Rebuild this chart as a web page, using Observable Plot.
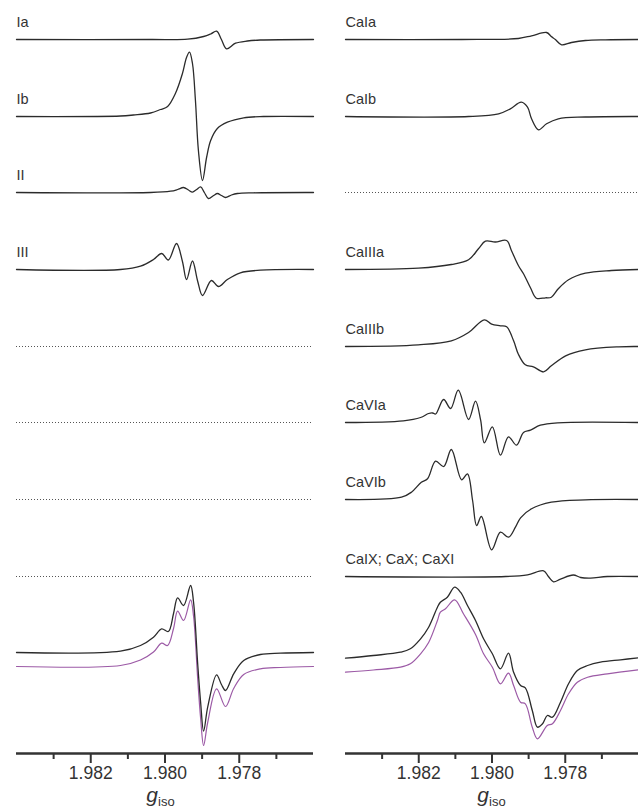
<!DOCTYPE html>
<html><head><meta charset="utf-8">
<script src="https://cdn.jsdelivr.net/npm/d3@7"></script>
<script src="https://cdn.jsdelivr.net/npm/@observablehq/plot@0.6"></script>
<style>
body{margin:0;background:#fff;}
#wrap{display:flex;width:638px;height:810px;background:#fff;}
</style></head><body><div id="wrap"></div>
<script>
// ---- axis values ----
const gDomain = [1.9840, 1.9760];
const majorTicks = [1.982, 1.980, 1.978];
const minorTicks = [1.983, 1.981, 1.979, 1.977];

// ---- left panel spectra: [g_iso, intensity (a.u.)] ----
const Ia = [[1.9840,0],[1.98039,0],[1.97939,0.3],[1.97896,3],[1.97877,5.5],[1.97861,8.3],[1.97848,0],[1.97834,-9.3],[1.97810,-3.7],[1.97778,-1.5],[1.97743,-0.5],[1.9760,0]];
const Ib = [[1.9840,0],[1.98120,0.5],[1.98085,1.5],[1.98039,3.5],[1.98012,7],[1.97993,10],[1.97972,23],[1.97953,43],[1.97942,59],[1.97934,64.3],[1.97926,53],[1.97918,16],[1.97910,-34],[1.97899,-64],[1.97888,-41],[1.97877,-24],[1.97859,-12],[1.97832,-5.7],[1.97788,-1.3],[1.97735,0],[1.9760,0]];
const II = [[1.9840,0],[1.98039,0],[1.97985,1.3],[1.97966,3],[1.97950,5],[1.97937,2.5],[1.97926,0.3],[1.97915,3],[1.97904,5.6],[1.97894,0],[1.97883,-6],[1.97869,-3],[1.97859,-1],[1.97848,-3],[1.97837,-5],[1.97821,-2.5],[1.97805,-1],[1.97762,-0.3],[1.9760,0]];
const III = [[1.9840,0],[1.98120,0],[1.98066,3.3],[1.98031,10],[1.98009,16],[1.97991,9.5],[1.97969,26],[1.97953,8],[1.97942,-10],[1.97926,8.5],[1.97912,-11.7],[1.97899,-26],[1.97875,-11],[1.97856,-17],[1.97832,-10],[1.97797,-3.3],[1.97743,-0.7],[1.9760,0]];
const leftExp = [[1.9840,0],[1.98120,1.3],[1.98066,7],[1.98031,15.3],[1.98009,23.7],[1.97991,21],[1.97977,39],[1.97966,54.7],[1.97950,47],[1.97931,67],[1.97923,50],[1.97912,-11],[1.97904,-50],[1.97896,-78.7],[1.97885,-54.7],[1.97861,-22.3],[1.97848,-32],[1.97837,-38],[1.97815,-21.3],[1.97788,-8],[1.97743,-2],[1.97689,-0.7],[1.9760,0]];
const leftSim = [[1.9840,0],[1.98120,1],[1.98066,6.5],[1.98031,14.5],[1.98009,23.3],[1.97993,21],[1.97977,38],[1.97966,55.3],[1.97950,46],[1.97931,66.7],[1.97923,50],[1.97912,-12],[1.97904,-52],[1.97896,-79],[1.97885,-56],[1.97861,-22.3],[1.97837,-40],[1.97815,-22],[1.97788,-8],[1.97743,-2.3],[1.97689,-1],[1.9760,0]];
const leftNames = ["Ia","Ib","II","III"];
const leftOffsets = [714, 637, 561, 484];
const leftEmpty = [407, 331, 254, 177];
const leftCompOffsets = [101, 87];

// ---- right panel spectra ----
const CaIa = [[1.9840,0],[1.98083,0],[1.97928,1],[1.97892,3.7],[1.97851,7],[1.97838,3],[1.97827,0],[1.97810,-5.3],[1.97783,-3],[1.97745,-1],[1.97690,-0.3],[1.9760,0]];
const CaIb = [[1.9840,0],[1.98064,0],[1.97982,2.7],[1.97950,7.7],[1.97920,14.3],[1.97903,9.3],[1.97892,-2.3],[1.97873,-13.3],[1.97851,-7.3],[1.97819,-2.3],[1.97745,-0.5],[1.9760,0]];
const CaIIIa = [[1.9840,0],[1.98201,1.3],[1.98111,5],[1.98064,9.7],[1.98037,20.7],[1.98018,28.3],[1.97991,27.5],[1.97960,29],[1.97947,19],[1.97928,4],[1.97914,-4.3],[1.97895,-18.3],[1.97879,-28.7],[1.97854,-28.3],[1.97838,-27.7],[1.97819,-19.3],[1.97791,-10.3],[1.97745,-3.7],[1.97674,-1],[1.9760,0]];
const CaIIIb = [[1.9840,0],[1.98201,1.7],[1.98111,5.7],[1.98064,14],[1.98021,26.7],[1.98001,22.3],[1.97977,20.7],[1.97960,19.7],[1.97941,5.7],[1.97928,-7.7],[1.97909,-18.3],[1.97887,-20.3],[1.97859,-25.3],[1.97838,-19.3],[1.97799,-9.3],[1.97745,-3.3],[1.97655,-0.3],[1.9760,0]];
const CaVIa = [[1.9840,0],[1.98242,1.7],[1.98195,5],[1.98173,9],[1.98162,9.5],[1.98154,8.5],[1.98132,23],[1.98113,14],[1.98092,32.3],[1.98064,3],[1.98045,21.3],[1.98031,2.3],[1.98021,-20.3],[1.97999,-4.3],[1.97977,-32.7],[1.97955,-14.3],[1.97933,-22.7],[1.97914,-10],[1.97895,-7.7],[1.97868,-2.7],[1.97821,-0.3],[1.9760,0]];
const CaVIb = [[1.9840,0],[1.98247,2.3],[1.98220,7.3],[1.98193,17.3],[1.98176,20.7],[1.98154,38.3],[1.98132,33],[1.98111,50],[1.98083,19.7],[1.98067,25.7],[1.98053,-1],[1.98042,-26],[1.98029,-17],[1.98001,-50.3],[1.97977,-32.7],[1.97955,-37.7],[1.97936,-27.7],[1.97922,-18.3],[1.97892,-9.3],[1.97838,-2.7],[1.97745,-0.3],[1.9760,0]];
const CaIX = [[1.9840,0],[1.97963,0],[1.97903,1.7],[1.97859,5.7],[1.97846,0],[1.97832,-5.3],[1.97813,-2.6],[1.97778,1.5],[1.97758,-1],[1.97731,-1.6],[1.97685,0],[1.9760,0]];
const rightExp = [[1.9840,2.3],[1.98324,5],[1.98250,8.3],[1.98223,11.7],[1.98195,21.7],[1.98173,33.3],[1.98149,53.3],[1.98141,58.3],[1.98122,63.3],[1.98102,73.3],[1.98086,68.3],[1.98067,55],[1.98045,40],[1.98023,21.7],[1.97999,6.7],[1.97977,-8.3],[1.97955,7.3],[1.97941,-11.7],[1.97922,-25],[1.97909,-27.3],[1.97890,-50],[1.97876,-66.7],[1.97862,-63.3],[1.97849,-55],[1.97835,-56.7],[1.97813,-41.7],[1.97791,-23.3],[1.97767,-10],[1.97739,-5],[1.97704,-1.7],[1.97649,0.7],[1.9760,2.7]];
const rightSim = [[1.9840,2.3],[1.98324,4.5],[1.98250,7.3],[1.98223,10.7],[1.98195,20.7],[1.98173,32],[1.98149,54],[1.98141,62.3],[1.98127,65.7],[1.98102,74.7],[1.98078,60.7],[1.98045,40],[1.98023,20.7],[1.97999,7.3],[1.97977,-9.3],[1.97955,1.3],[1.97941,-11],[1.97922,-27.7],[1.97909,-29.3],[1.97890,-52.7],[1.97876,-64.3],[1.97849,-51],[1.97835,-49.3],[1.97813,-36],[1.97791,-19.3],[1.97767,-7.7],[1.97739,-2.7],[1.97685,0.7],[1.9760,4.7]];
const rightNames = ["CaIa","CaIb","CaIIIa","CaIIIb","CaVIa","CaVIb","CaIX; CaX; CaXI"];
const rightOffsets = [714, 637, 484, 407, 331, 254, 177];
const rightEmpty = [561];
const rightCompOffsets = [93, 79];

const FONT = "'Liberation Sans', Arial, Helvetica, sans-serif";
const LINE = "#2b2b2b";
const SIM = "#9c5aa6";
const CURVE = "catmull-rom";

function panel(o) {
  const rows = [];
  o.traces.forEach((t, i) => t.forEach(([g, v]) => rows.push({g, y: o.offsets[i] + v, id: o.names[i]})));
  const expRows = o.exp.map(([g, v]) => ({g, y: o.compOffsets[0] + v}));
  const simRows = o.sim.map(([g, v]) => ({g, y: o.compOffsets[1] + v}));
  const labels = o.names.map((n, i) => ({g: gDomain[0], y: o.offsets[i], n}));
  const plot = Plot.plot({
    width: o.width, height: 810,
    marginLeft: o.mL, marginRight: o.mR, marginTop: 0, marginBottom: 57,
    x: {domain: gDomain, axis: null, label: null},
    y: {domain: [0, 753], axis: null, label: null},
    style: {background: "white", fontFamily: FONT, color: "#333", overflow: "visible"},
    marks: [
      Plot.ruleY(o.empty, {stroke: "#555", strokeWidth: 1, strokeDasharray: "1,2"}),
      Plot.line(rows, {x: "g", y: "y", z: "id", stroke: LINE, strokeWidth: 1.3, curve: CURVE}),
      Plot.line(simRows, {x: "g", y: "y", stroke: SIM, strokeWidth: 1.2, curve: CURVE}),
      Plot.line(expRows, {x: "g", y: "y", stroke: LINE, strokeWidth: 1.3, curve: CURVE}),
      Plot.text(labels, {x: "g", y: "y", text: "n", textAnchor: "start", lineAnchor: "middle", dy: -17, fontSize: 14.5, fill: "#333"}),
      Plot.ruleY([0], {stroke: "#333", strokeWidth: 2.5}),
      Plot.axisX(majorTicks, {label: null, tickSize: 10, tickPadding: 3, strokeWidth: 2, stroke: "#333", fontSize: 17.5, fill: "#333", tickFormat: d3.format(".3f")}),
      Plot.axisX(minorTicks, {label: null, tickSize: 6, strokeWidth: 2, stroke: "#333", tickFormat: () => ""})
    ]
  });
  const xs = plot.scale("x");
  const cx = xs.apply(1.980) + o.labelShift;
  const t = d3.select(plot).append("text")
    .attr("x", cx).attr("y", 802).attr("text-anchor", "middle")
    .attr("font-family", FONT).attr("fill", "#333");
  t.append("tspan").attr("font-style", "italic").attr("font-size", 21).text("g");
  t.append("tspan").attr("font-size", 13).attr("dy", 4).text("iso");
  return plot;
}

const wrap = document.getElementById("wrap");
wrap.appendChild(panel({traces: [Ia, Ib, II, III], names: leftNames, offsets: leftOffsets, empty: leftEmpty,
  exp: leftExp, sim: leftSim, compOffsets: leftCompOffsets, width: 319, mL: 16, mR: 6, labelShift: -4}));
wrap.appendChild(panel({traces: [CaIa, CaIb, CaIIIa, CaIIIb, CaVIa, CaVIb, CaIX], names: rightNames, offsets: rightOffsets, empty: rightEmpty,
  exp: rightExp, sim: rightSim, compOffsets: rightCompOffsets, width: 319, mL: 26, mR: 0, labelShift: 0}));
</script>
</body></html>
